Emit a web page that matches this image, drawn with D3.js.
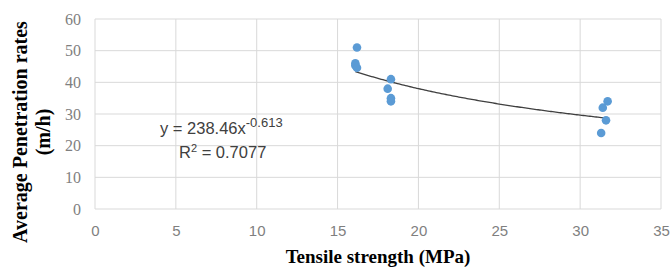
<!DOCTYPE html>
<html><head><meta charset="utf-8">
<script src="https://cdn.jsdelivr.net/npm/d3@7"></script>
<style>body{margin:0;background:#fff}svg{display:block}</style>
</head><body>
<script>
const xVals = [16.2, 16.1, 16.1, 16.2, 18.3, 18.1, 18.3, 18.3, 31.7, 31.4, 31.6, 31.3];
const yVals = [51, 46, 45.3, 44.6, 41, 38, 35, 34, 34, 32, 28, 24];
const xTicks = [0, 5, 10, 15, 20, 25, 30, 35];
const yTicks = [0, 10, 20, 30, 40, 50, 60];
const fitA = 238.46, fitB = -0.613;
const eqText = "y = 238.46x", eqExp = "-0.613", r2Text = "0.7077";

const W = 670, H = 268;
const svg = d3.select("body").append("svg").attr("width", W).attr("height", H);
const x = d3.scaleLinear().domain([0, 35]).range([95, 661]);
const y = d3.scaleLinear().domain([0, 60]).range([209, 19]);

// gridlines
svg.append("g").selectAll("line").data(yTicks).join("line")
  .attr("x1", x(0)).attr("x2", x(35)).attr("y1", d => y(d)).attr("y2", d => y(d))
  .attr("stroke", "#d9d9d9").attr("stroke-width", 1);
svg.append("g").selectAll("line").data(xTicks).join("line")
  .attr("y1", y(0)).attr("y2", y(60)).attr("x1", d => x(d)).attr("x2", d => x(d))
  .attr("stroke", "#d9d9d9").attr("stroke-width", 1);

// axes labels
const yAxis = d3.axisLeft(y).tickValues(yTicks).tickSize(0).tickPadding(14);
const gy = svg.append("g").attr("transform", `translate(${x(0)},0)`).call(yAxis);
gy.select(".domain").remove();
gy.selectAll("text").attr("fill", "#7f7f7f").style("font-family", "Liberation Serif").style("font-size", "16px");

const xAxis = d3.axisBottom(x).tickValues(xTicks).tickSize(0).tickPadding(16);
const gx = svg.append("g").attr("transform", `translate(0,${y(0)})`).call(xAxis);
gx.select(".domain").remove();
gx.selectAll("text").attr("fill", "#7f7f7f").style("font-family", "Liberation Sans").style("font-size", "15px");

// trendline
const xs = d3.range(16.1, 31.71, 0.1);
svg.append("path").datum(xs)
  .attr("d", d3.line().x(d => x(d)).y(d => y(fitA * Math.pow(d, fitB))))
  .attr("fill", "none").attr("stroke", "#404040").attr("stroke-width", 1.3);

// points
svg.append("g").selectAll("circle").data(xVals.map((v, i) => [v, yVals[i]])).join("circle")
  .attr("cx", d => x(d[0])).attr("cy", d => y(d[1])).attr("r", 4.3)
  .attr("fill", "#5b9bd5");

// equation
const eq = svg.append("text").attr("x", 160).attr("y", 134)
  .style("font-family", "Liberation Sans").style("font-size", "16.5px").attr("fill", "#404040");
eq.append("tspan").text(eqText);
eq.append("tspan").attr("dy", -7).style("font-size", "13px").text(eqExp);
const r2 = svg.append("text").attr("x", 179).attr("y", 158)
  .style("font-family", "Liberation Sans").style("font-size", "16.5px").attr("fill", "#404040");
r2.append("tspan").text("R");
r2.append("tspan").attr("dy", -6).style("font-size", "11px").text("2");
r2.append("tspan").attr("dy", 6).text(" = " + r2Text);

// axis titles
svg.append("text").attr("x", (x(0) + x(35)) / 2).attr("y", 263).attr("text-anchor", "middle")
  .style("font-family", "Liberation Serif").style("font-weight", "bold").style("font-size", "19px")
  .attr("fill", "#000").text("Tensile strength (MPa)");
const yt = svg.append("text").attr("transform", "translate(0,132) rotate(-90)").attr("text-anchor", "middle")
  .style("font-family", "Liberation Serif").style("font-weight", "bold").style("font-size", "20px").attr("fill", "#000");
yt.append("tspan").attr("x", 0).attr("y", 27).text("Average Penetration rates");
yt.append("tspan").attr("x", 0).attr("y", 50).text("(m/h)");
</script>
</body></html>
